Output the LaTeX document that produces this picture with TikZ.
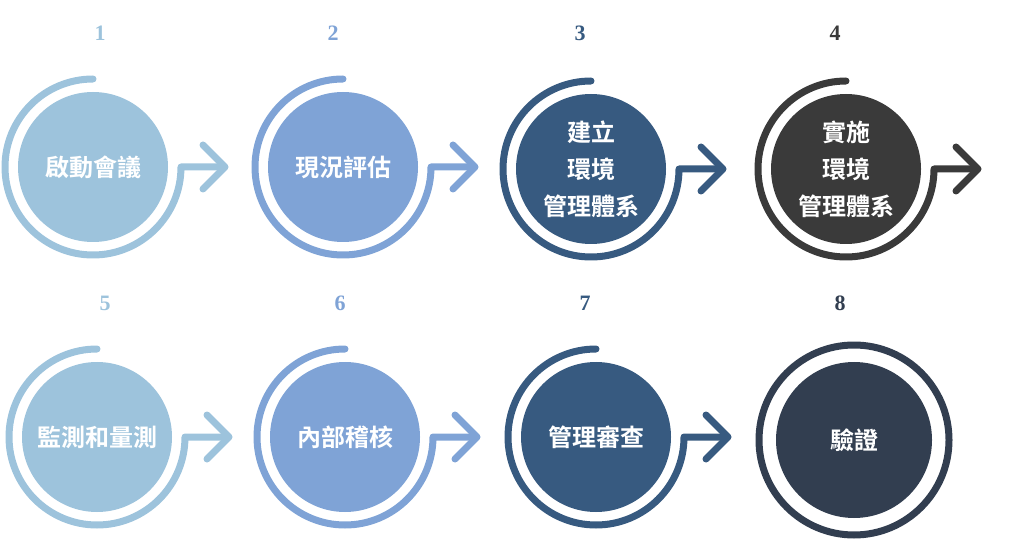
\documentclass[tikz,border=0pt]{standalone}
\usepackage{fontspec}
\newfontfamily\cjk{Noto Sans CJK TC}[BoldFont={* Bold}]
\setmainfont{Liberation Serif}
\definecolor{cA}{HTML}{9DC3DC}
\definecolor{cB}{HTML}{7FA3D6}
\definecolor{cC}{HTML}{375A80}
\definecolor{cD}{HTML}{3A3A3A}
\definecolor{cE}{HTML}{323E50}
\tikzset{
 disc/.style={circle,minimum size=150pt,inner sep=0pt,text=white,align=center,font=\cjk\bfseries\fontsize{24}{37}\selectfont},
 ring/.style={line width=7pt,line cap=round,line join=round},
 num/.style={font=\bfseries\fontsize{22}{24}\selectfont}
}
\newcommand{\stepring}[2]{%
 \draw[ring,#2] ([yshift=88pt]#1.center) arc[start angle=90,end angle=360,radius=88pt] -- ([xshift=130pt]#1.center);
 \draw[ring,#2] ([xshift=110pt,yshift=22pt]#1.center) -- ([xshift=132pt]#1.center) -- ([xshift=110pt,yshift=-22pt]#1.center);}
\begin{document}
\begin{tikzpicture}[x=1pt,y=1pt]
\useasboundingbox (0,0) rectangle (1024,557);
\node[disc,fill=cA] (s1) at (93,390) {啟動會議};
\node[disc,fill=cB] (s2) at (343,390) {現況評估};
\node[disc,fill=cC] (s3) at (591,388) {建立\\環境\\管理體系};
\node[disc,fill=cD] (s4) at (846,388) {實施\\環境\\管理體系};
\node[disc,fill=cA] (s5) at (97,120) {監測和量測};
\node[disc,fill=cB] (s6) at (345,120) {內部稽核};
\node[disc,fill=cC] (s7) at (596,120) {管理審查};
\node[disc,fill=cE,minimum size=156pt] (s8) at (854,117) {驗證};
\stepring{s1}{cA}\stepring{s2}{cB}\stepring{s3}{cC}\stepring{s4}{cD}
\stepring{s5}{cA}\stepring{s6}{cB}\stepring{s7}{cC}
\draw[ring,cE] (s8.center) circle[radius=95pt];
\node[num,text=cA] (n1) at (100,524) {1};
\node[num,text=cB] (n2) at (333,524) {2};
\node[num,text=cC] (n3) at (580,524) {3};
\node[num,text=cD] (n4) at (835,524) {4};
\node[num,text=cA] (n5) at (105,254) {5};
\node[num,text=cB] (n6) at (340,254) {6};
\node[num,text=cC] (n7) at (585,254) {7};
\node[num,text=cE] (n8) at (840,254) {8};
\end{tikzpicture}
\end{document}
